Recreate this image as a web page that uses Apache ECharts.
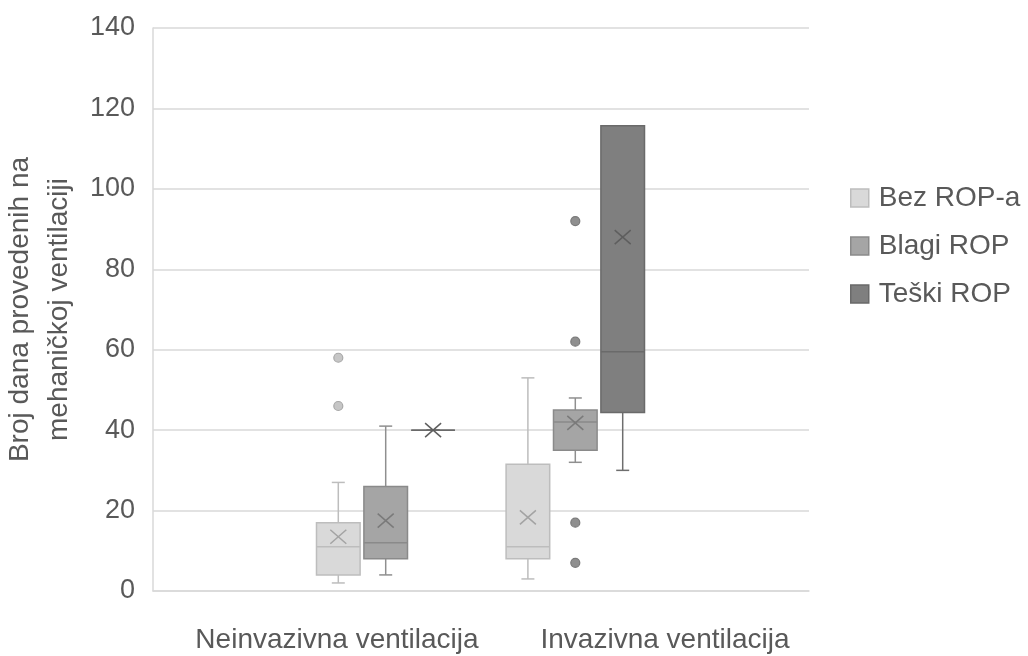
<!DOCTYPE html>
<html>
<head>
<meta charset="utf-8">
<script src="https://cdn.jsdelivr.net/npm/echarts@6/dist/echarts.min.js"></script>
<style>
html,body{margin:0;padding:0;background:#fff;}
#chart{width:1028px;height:656px;}
</style>
</head>
<body>
<div id="chart"></div>
<script>
// ---- data ----
const categories = ['Neinvazivna ventilacija', 'Invazivna ventilacija'];
const seriesNames = ['Bez ROP-a', 'Blagi ROP', 'Teški ROP'];
const yTicks = [0, 20, 40, 60, 80, 100, 120, 140];
// [min, Q1, median, Q3, max] per category
const bezBox = [[2, 4, 11, 17, 27], [3, 8, 11, 31.5, 53]];
const blagiBox = [[4, 8, 12, 26, 41], [32, 35, 42, 45, 48]];
const teskiBox = [[40, 40, 40, 40, 40], [30, 44.4, 59.5, 115.7, 115.7]];
// means per category
const bezMean = [13.5, 18.3];
const blagiMean = [17.5, 41.8];
const teskiMean = [40, 88];
// outliers: [categoryIndex, value]
const bezOutliers = [[0, 58], [0, 46]];
const blagiOutliers = [[1, 92], [1, 62], [1, 17], [1, 7]];
const teskiOutliers = [];

// ---- styles ----
const styles = [
  { fill: '#d9d9d9', stroke: '#bdbdbd', whisk: '#bdbdbd', xcol: '#a3a3a3', dot: '#c6c6c6', dotBorder: '#a8a8a8' },
  { fill: '#a5a5a5', stroke: '#8a8a8a', whisk: '#8f8f8f', xcol: '#7a7a7a', dot: '#8f8f8f', dotBorder: '#7a7a7a' },
  { fill: '#7f7f7f', stroke: '#6a6a6a', whisk: '#6e6e6e', xcol: '#5e5e5e', dot: '#6e6e6e', dotBorder: '#5e5e5e' }
];
const boxes = [bezBox, blagiBox, teskiBox];
const means = [bezMean, blagiMean, teskiMean];
const outliers = [bezOutliers, blagiOutliers, teskiOutliers];

const slotCount = 7;
const slots = Array.from({ length: slotCount }, (_, i) => 's' + i);
function slotOf(cat, s) { return cat * 4 + s; }

function makeRender(st) {
  return function (params, api) {
    const slot = api.value(0);
    const pMin = api.coord([slot, api.value(1)]);
    const pQ1 = api.coord([slot, api.value(2)]);
    const pMed = api.coord([slot, api.value(3)]);
    const pQ3 = api.coord([slot, api.value(4)]);
    const pMax = api.coord([slot, api.value(5)]);
    const pMean = api.coord([slot, api.value(6)]);
    const bw = api.size([1, 0])[0] * 0.92;
    const cx = pMin[0];
    const cap = 6.5;
    const lw = 1.5;
    const xh = 8, xv = 7;
    const ls = (c) => ({ stroke: c, lineWidth: lw, fill: null });
    return {
      type: 'group',
      children: [
        { type: 'line', shape: { x1: cx, y1: pQ3[1], x2: cx, y2: pMax[1] }, style: ls(st.whisk) },
        { type: 'line', shape: { x1: cx, y1: pQ1[1], x2: cx, y2: pMin[1] }, style: ls(st.whisk) },
        { type: 'line', shape: { x1: cx - cap, y1: pMax[1], x2: cx + cap, y2: pMax[1] }, style: ls(st.whisk) },
        { type: 'line', shape: { x1: cx - cap, y1: pMin[1], x2: cx + cap, y2: pMin[1] }, style: ls(st.whisk) },
        { type: 'rect', shape: { x: cx - bw / 2, y: pQ3[1], width: bw, height: pQ1[1] - pQ3[1] },
          style: { fill: st.fill, stroke: st.stroke, lineWidth: lw } },
        { type: 'line', shape: { x1: cx - bw / 2, y1: pMed[1], x2: cx + bw / 2, y2: pMed[1] }, style: ls(st.stroke) },
        { type: 'line', shape: { x1: cx - xh, y1: pMean[1] - xv, x2: cx + xh, y2: pMean[1] + xv }, style: ls(st.xcol) },
        { type: 'line', shape: { x1: cx - xh, y1: pMean[1] + xv, x2: cx + xh, y2: pMean[1] - xv }, style: ls(st.xcol) }
      ]
    };
  };
}

const series = [];
seriesNames.forEach((name, s) => {
  const st = styles[s];
  const data = boxes[s].map((b, c) => [slotOf(c, s)].concat(b).concat([means[s][c]]));
  series.push({
    name: name,
    type: 'custom',
    xAxisIndex: 1,
    yAxisIndex: 1,
    itemStyle: { color: st.fill, borderColor: st.stroke, borderWidth: 1 },
    encode: { x: 0, y: [1, 2, 3, 4, 5, 6] },
    renderItem: makeRender(st),
    data: data,
    z: 2
  });
  if (outliers[s].length) {
    series.push({
      name: name + ' outliers',
      type: 'scatter',
      xAxisIndex: 1,
      yAxisIndex: 1,
      symbol: 'circle',
      symbolSize: 9,
      itemStyle: { color: st.dot, borderColor: st.dotBorder, borderWidth: 1.2, opacity: 1 },
      data: outliers[s].map(o => [slotOf(o[0], s), o[1]]),
      z: 3
    });
  }
});

const textColor = '#595959';
const gridColor = '#d9d9d9';
const fontFam = 'Liberation Sans, Arial, sans-serif';

const option = {
  backgroundColor: '#ffffff',
  animation: false,
  textStyle: { fontFamily: fontFam },
  legend: {
    orient: 'vertical',
    left: 845,
    top: 179,
    itemWidth: 18,
    itemHeight: 18,
    itemGap: 20,
    icon: 'rect',
    textStyle: { fontSize: 28, lineHeight: 28, color: textColor, fontFamily: fontFam, padding: [0, 0, 0, 5] },
    data: seriesNames.map((n, i) => ({ name: n, itemStyle: { color: styles[i].fill, borderColor: styles[i].stroke, borderWidth: 1.5 } }))
  },
  grid: [
    { left: 153, right: 219, top: 28, bottom: 65, containLabel: false, outerBoundsMode: 'none' },
    { left: 314.6, right: 381.6, top: 28, bottom: 65, containLabel: false, outerBoundsMode: 'none' }
  ],
  xAxis: [
    {
      type: 'category',
      gridIndex: 0,
      data: categories,
      axisLine: { show: true, lineStyle: { color: gridColor, width: 1.5 } },
      axisTick: { show: false },
      axisLabel: { interval: 0, fontSize: 28, color: textColor, margin: 35, padding: [0, 0, 0, 40], fontFamily: fontFam }
    },
    {
      type: 'category',
      gridIndex: 1,
      data: slots,
      show: false
    }
  ],
  yAxis: [
    {
      type: 'value',
      gridIndex: 0,
      min: 0,
      max: yTicks[yTicks.length - 1],
      interval: yTicks[1] - yTicks[0],
      name: 'Broj dana provedenih na\nmehaničkoj ventilaciji',
      nameLocation: 'middle',
      nameGap: 71,
      nameTextStyle: { fontSize: 28, color: textColor, lineHeight: 39, fontFamily: fontFam },
      axisLine: { show: true, lineStyle: { color: gridColor, width: 1.5 } },
      axisTick: { show: false },
      axisLabel: { fontSize: 27, color: textColor, margin: 18, fontFamily: fontFam },
      splitLine: { show: true, lineStyle: { color: gridColor, width: 1.5 } }
    },
    {
      type: 'value',
      gridIndex: 1,
      min: 0,
      max: yTicks[yTicks.length - 1],
      show: false
    }
  ],
  series: series
};

const chart = echarts.init(document.getElementById('chart'), null, { renderer: 'canvas' });
chart.setOption(option);
</script>
</body>
</html>
